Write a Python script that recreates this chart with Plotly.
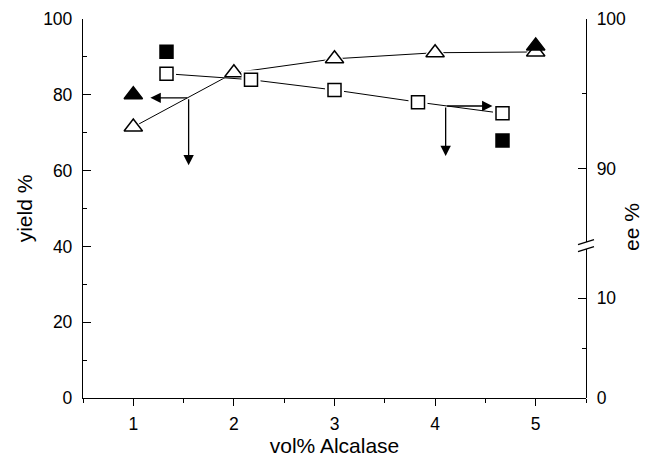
import plotly.graph_objects as go

# Enzyme loading (vol% Alcalase)
x_tri = [1, 2, 3, 4, 5]
yield_open = [71.5, 85.8, 89.5, 91.1, 91.3]
x_tri_solid = [1, 5]
yield_solid = [80.0, 92.9]

x_sq = [1.33, 2.17, 3.0, 3.83, 4.67]
ee_open = [96.34, 95.94, 95.25, 94.44, 93.69]
x_sq_solid = [1.33, 4.67]
ee_solid = [97.81, 91.88]

# Tick labels
x_ticks = [1, 2, 3, 4, 5]
yield_ticks = [0, 20, 40, 60, 80, 100]
ee_ticks_upper = [90, 100]
ee_ticks_lower = [0, 10]

FONT = "Liberation Sans, Arial, sans-serif"
LW = 1.3
TRI = 16
SQ = 13
HALO = 6

fig = go.Figure()

# yield series (left axis): triangles
fig.add_trace(go.Scatter(x=x_tri, y=yield_open, mode="lines",
                         line=dict(color="black", width=1), yaxis="y",
                         hoverinfo="skip"))
fig.add_trace(go.Scatter(x=x_tri, y=yield_open, mode="markers", yaxis="y",
                         marker=dict(symbol="triangle-up", size=TRI + HALO,
                                     color="white", line=dict(width=0)),
                         hoverinfo="skip"))
fig.add_trace(go.Scatter(x=x_tri, y=yield_open, mode="markers", yaxis="y",
                         marker=dict(symbol="triangle-up", size=TRI, color="white",
                                     line=dict(color="black", width=1.5))))
fig.add_trace(go.Scatter(x=x_tri_solid, y=yield_solid, mode="markers", yaxis="y",
                         marker=dict(symbol="triangle-up", size=TRI, color="black",
                                     line=dict(color="black", width=1.5))))

# ee series (right axis, upper segment): squares
fig.add_trace(go.Scatter(x=x_sq, y=ee_open, mode="lines",
                         line=dict(color="black", width=1), yaxis="y2",
                         hoverinfo="skip"))
fig.add_trace(go.Scatter(x=x_sq, y=ee_open, mode="markers", yaxis="y2",
                         marker=dict(symbol="square", size=SQ + HALO,
                                     color="white", line=dict(width=0)),
                         hoverinfo="skip"))
fig.add_trace(go.Scatter(x=x_sq, y=ee_open, mode="markers", yaxis="y2",
                         marker=dict(symbol="square", size=SQ, color="white",
                                     line=dict(color="black", width=1.5))))
fig.add_trace(go.Scatter(x=x_sq_solid, y=ee_solid, mode="markers", yaxis="y2",
                         marker=dict(symbol="square", size=SQ, color="black",
                                     line=dict(color="black", width=1.5))))

# lower ee segment carries no data but needs a trace to be drawn
fig.add_trace(go.Scatter(x=[None], y=[None], yaxis="y3", showlegend=False))

tickfont = dict(family=FONT, size=17.5, color="black")
titlefont = dict(family=FONT, size=21, color="black")

BREAK_LO = 0.393
BREAK_HI = 0.411

fig.update_layout(
    width=653, height=462,
    margin=dict(l=83, r=67, t=19, b=64),
    paper_bgcolor="white", plot_bgcolor="rgba(0,0,0,0)",
    showlegend=False,
    font=dict(family=FONT, color="black"),
    xaxis=dict(range=[0.5, 5.5], tickmode="array", tickvals=x_ticks,
               ticks="outside", ticklen=7, tickwidth=LW, tickcolor="black",
               minor=dict(dtick=0.5, tick0=0.5, ticks="outside", ticklen=4,
                          tickwidth=LW, tickcolor="black"),
               showline=True, linecolor="black", linewidth=LW,
               showgrid=False, zeroline=False, tickfont=tickfont,
               ticklabelstandoff=3, automargin=False,
               title=dict(text="vol% Alcalase", font=titlefont, standoff=5)),
    yaxis=dict(range=[0, 100], tickmode="array", tickvals=yield_ticks,
               ticks="inside", ticklen=8, tickwidth=LW, tickcolor="black",
               minor=dict(dtick=10, tick0=0, ticks="inside", ticklen=4,
                          tickwidth=LW, tickcolor="black"),
               showline=True, linecolor="black", linewidth=LW,
               showgrid=False, zeroline=False, tickfont=tickfont,
               ticklabelstandoff=6, automargin=False,
               title=dict(text="yield %", font=titlefont, standoff=4)),
    yaxis2=dict(anchor="x", side="right", domain=[BREAK_HI, 1],
                range=[85.07, 100], tickmode="array", tickvals=ee_ticks_upper,
                ticks="inside", ticklen=8, tickwidth=LW, tickcolor="black",
                minor=dict(dtick=5, tick0=0, ticks="inside", ticklen=4,
                           tickwidth=LW, tickcolor="black"),
                showline=True, linecolor="black", linewidth=LW,
                showgrid=False, zeroline=False, tickfont=tickfont,
                ticklabelstandoff=6, automargin=False),
    yaxis3=dict(anchor="x", side="right", domain=[0, BREAK_LO],
                range=[0, 14.9], tickmode="array", tickvals=ee_ticks_lower,
                ticks="inside", ticklen=8, tickwidth=LW, tickcolor="black",
                minor=dict(dtick=5, tick0=0, ticks="inside", ticklen=4,
                           tickwidth=LW, tickcolor="black"),
                showline=True, linecolor="black", linewidth=LW,
                showgrid=False, zeroline=False, tickfont=tickfont,
                ticklabelstandoff=6, automargin=False),
)

# axis break marks on the right axis
for ya in (BREAK_LO, BREAK_HI):
    fig.add_shape(type="line", xref="paper", yref="paper",
                  xsizemode="pixel", xanchor=1, x0=-8, x1=8,
                  ysizemode="pixel", yanchor=ya, y0=-2.5, y1=2.5,
                  line=dict(color="black", width=LW))

# right axis title
fig.add_annotation(text="ee %", xref="paper", yref="paper", x=1, y=0.45,
                   xshift=59, textangle=-90, showarrow=False,
                   font=titlefont)

# arrows pointing each series to its axis
arrow_style = dict(text="", showarrow=True, arrowhead=2, arrowsize=1.6,
                   arrowwidth=1.3, arrowcolor="black", standoff=0,
                   startstandoff=0)
fig.add_annotation(x=1.17, y=79.2, ax=1.55, ay=79.2, xref="x", yref="y",
                   axref="x", ayref="y", **arrow_style)
fig.add_annotation(x=1.55, y=61.4, ax=1.55, ay=79.2, xref="x", yref="y",
                   axref="x", ayref="y", **arrow_style)
fig.add_annotation(x=4.57, y=94.18, ax=4.105, ay=94.18, xref="x", yref="y2",
                   axref="x", ayref="y2", **arrow_style)
fig.add_annotation(x=4.105, y=90.83, ax=4.105, ay=94.18, xref="x", yref="y2",
                   axref="x", ayref="y2", **arrow_style)

fig.write_html("out.html")
